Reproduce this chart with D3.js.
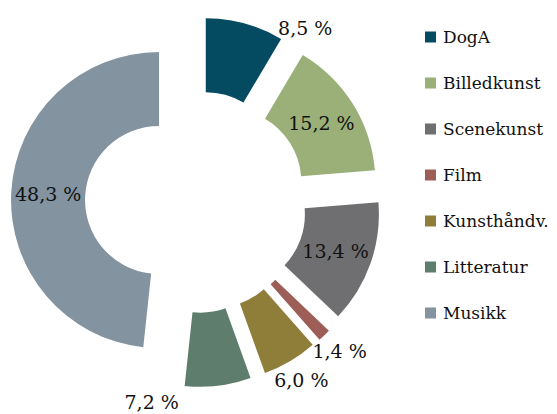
<!DOCTYPE html>
<html lang="no">

<head>
    <meta charset="UTF-8">
    <title>Donut</title>
    <script src="https://d3js.org/d3.v7.min.js"></script>
    <style>
        body {
            margin: 0;
            background: #fff;
        }

        svg {
            display: block;
        }

        text {
            font-family: 'DejaVu Serif', serif;
            fill: #111;
        }
    </style>
</head>

<body>
    <div id="chart"></div>

    <script>
        // data
        const categories = ["DogA", "Billedkunst", "Scenekunst", "Film", "Kunsthåndv.", "Litteratur", "Musikk"];
        const shares = [8.5, 15.2, 13.4, 1.4, 6.0, 7.2, 48.3];
        const colors = ["#044b62", "#9bb079", "#6f6f71", "#9c5e57", "#8f7e3a", "#5f7d6d", "#8393a0"];

        const width = 557, height = 414;
        const cx = 196, cy = 202;
        const outerR = 148, innerR = 74, explode = 37;
        const labelDist = 170, labelMinY = 28, labelMaxY = 402;

        const svg = d3.select("#chart").append("svg")
            .attr("width", width)
            .attr("height", height);

        const pie = d3.pie().sort(null).value(d => d.value);
        const arc = d3.arc().innerRadius(innerR).outerRadius(outerR);

        const data = categories.map((c, i) => ({ name: c, value: shares[i], color: colors[i] }));
        const arcs = pie(data);

        const fmt = v => v.toFixed(1).replace(".", ",") + " %";

        // every slice pulled out from the centre
        arcs.forEach(d => {
            const mid = (d.startAngle + d.endAngle) / 2;
            d.ox = cx + Math.sin(mid) * explode;
            d.oy = cy - Math.cos(mid) * explode;
        });

        const g = svg.append("g");

        g.selectAll("path")
            .data(arcs)
            .enter().append("path")
            .attr("transform", d => `translate(${d.ox},${d.oy})`)
            .attr("d", arc)
            .attr("fill", d => d.data.color);

        // labels: big slices inside, small ones outside (rotated on if they leave the box)
        arcs.forEach(d => {
            let x, y;
            if (d.data.value >= 10) {
                const c = arc.centroid(d);
                x = d.ox + c[0];
                y = d.oy + c[1];
            } else {
                let a = (d.startAngle + d.endAngle) / 2;
                let yy = d.oy - Math.cos(a) * labelDist;
                let n = 0;
                while ((yy < labelMinY || yy > labelMaxY) && n < 200) {
                    a += Math.PI / 360;
                    yy = d.oy - Math.cos(a) * labelDist;
                    n++;
                }
                x = d.ox + Math.sin(a) * labelDist;
                y = yy;
            }
            g.append("text")
                .attr("x", x)
                .attr("y", y)
                .attr("text-anchor", "middle")
                .attr("dominant-baseline", "central")
                .style("font-size", "19px")
                .text(fmt(d.data.value));
        });

        // legend
        const ly = d3.scalePoint().domain(categories).range([37, 313]);

        const leg = svg.selectAll(".leg")
            .data(data)
            .enter().append("g")
            .attr("class", "leg")
            .attr("transform", d => `translate(425,${ly(d.name)})`);

        leg.append("rect")
            .attr("x", 0)
            .attr("y", -5.5)
            .attr("width", 11)
            .attr("height", 11)
            .attr("fill", d => d.color);

        leg.append("text")
            .attr("x", 18)
            .attr("y", 0)
            .attr("dominant-baseline", "central")
            .style("font-size", "17px")
            .text(d => d.name);
    </script>
</body>

</html>
